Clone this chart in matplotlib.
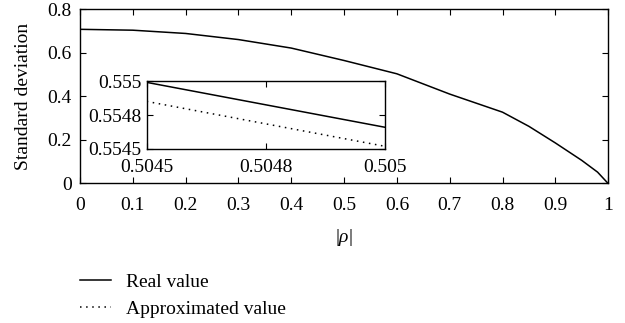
#!/usr/bin/env python3
# -*- coding: utf-8 -*-

import matplotlib
matplotlib.use('Agg')
import matplotlib.pyplot as plt

# main curve
rho       = [0.0, 0.1, 0.2, 0.3, 0.4, 0.5, 0.6, 0.7, 0.8, 0.85, 0.9, 0.95, 0.98, 1.0]
std_real  = [0.707, 0.703, 0.688, 0.660, 0.621, 0.564, 0.503, 0.410, 0.327,
             0.262, 0.186, 0.106, 0.052, 0.0]

# zoomed-in segment (inset)
rho_zoom    = [0.5045, 0.505]
zoom_real   = [0.55499, 0.55466]
zoom_approx = [0.55485, 0.55452]

x_ticks       = [0, 0.1, 0.2, 0.3, 0.4, 0.5, 0.6, 0.7, 0.8, 0.9, 1]
x_tick_labels = ['0', '0.1', '0.2', '0.3', '0.4', '0.5', '0.6', '0.7', '0.8', '0.9', '1']
y_ticks       = [0, 0.2, 0.4, 0.6, 0.8]
y_tick_labels = ['0', '0.2', '0.4', '0.6', '0.8']

ix_ticks       = [0.5045, 0.50475, 0.505]
ix_tick_labels = ['0.5045', '0.5048', '0.505']
iy_ticks       = [0.5545, 0.55475, 0.555]
iy_tick_labels = ['0.5545', '0.5548', '0.555']

series_labels = ['Real value', 'Approximated value']


def style_axis(ax, pad_x, pad_y):
    ax.tick_params(direction='in', top=True, right=True, length=4, width=0.8,
                   labelsize=14)
    ax.tick_params(axis='x', pad=pad_x)
    ax.tick_params(axis='y', pad=pad_y)
    for sp in ax.spines.values():
        sp.set_linewidth(1.0)


def main():
    plt.rcParams['font.family'] = ['Liberation Serif', 'DejaVu Serif']
    plt.rcParams['mathtext.fontset'] = 'custom'
    plt.rcParams['mathtext.rm'] = 'Liberation Serif'
    plt.rcParams['mathtext.it'] = 'Liberation Serif:italic'

    fig = plt.figure(figsize=(6.25, 3.23), dpi=100)
    ax = fig.add_axes([0.128, 0.432, 0.845, 0.540])

    ax.plot(rho, std_real, color='black', lw=1.1)
    ax.set_xlim(0, 1)
    ax.set_ylim(0, 0.8)
    ax.set_xticks(x_ticks)
    ax.set_xticklabels(x_tick_labels)
    ax.set_yticks(y_ticks)
    ax.set_yticklabels(y_tick_labels)
    style_axis(ax, 9.5, 6)
    ax.set_xlabel(r'$|\rho|$', fontsize=14, labelpad=9.5)
    ax.set_ylabel('Standard deviation', fontsize=14, labelpad=11)

    ins = fig.add_axes([0.2347, 0.5387, 0.381, 0.2105])
    h1, = ins.plot(rho_zoom, zoom_real, color='black', lw=1.1)
    h2, = ins.plot(rho_zoom, zoom_approx, color='black', lw=1.1,
                   linestyle=(0, (1, 3)))
    ins.set_xlim(0.5045, 0.505)
    ins.set_ylim(0.5545, 0.555)
    ins.set_xticks(ix_ticks)
    ins.set_xticklabels(ix_tick_labels)
    ins.set_yticks(iy_ticks)
    ins.set_yticklabels(iy_tick_labels)
    style_axis(ins, 7, 4)

    fig.legend([h1, h2], series_labels, loc='upper left',
               bbox_to_anchor=(0.128, 0.153), frameon=False, fontsize=14,
               borderpad=0, borderaxespad=0, handlelength=1.6,
               handletextpad=0.75, labelspacing=0.45)

    fig.savefig('out.png', dpi=100)


if __name__ == '__main__':
    main()
